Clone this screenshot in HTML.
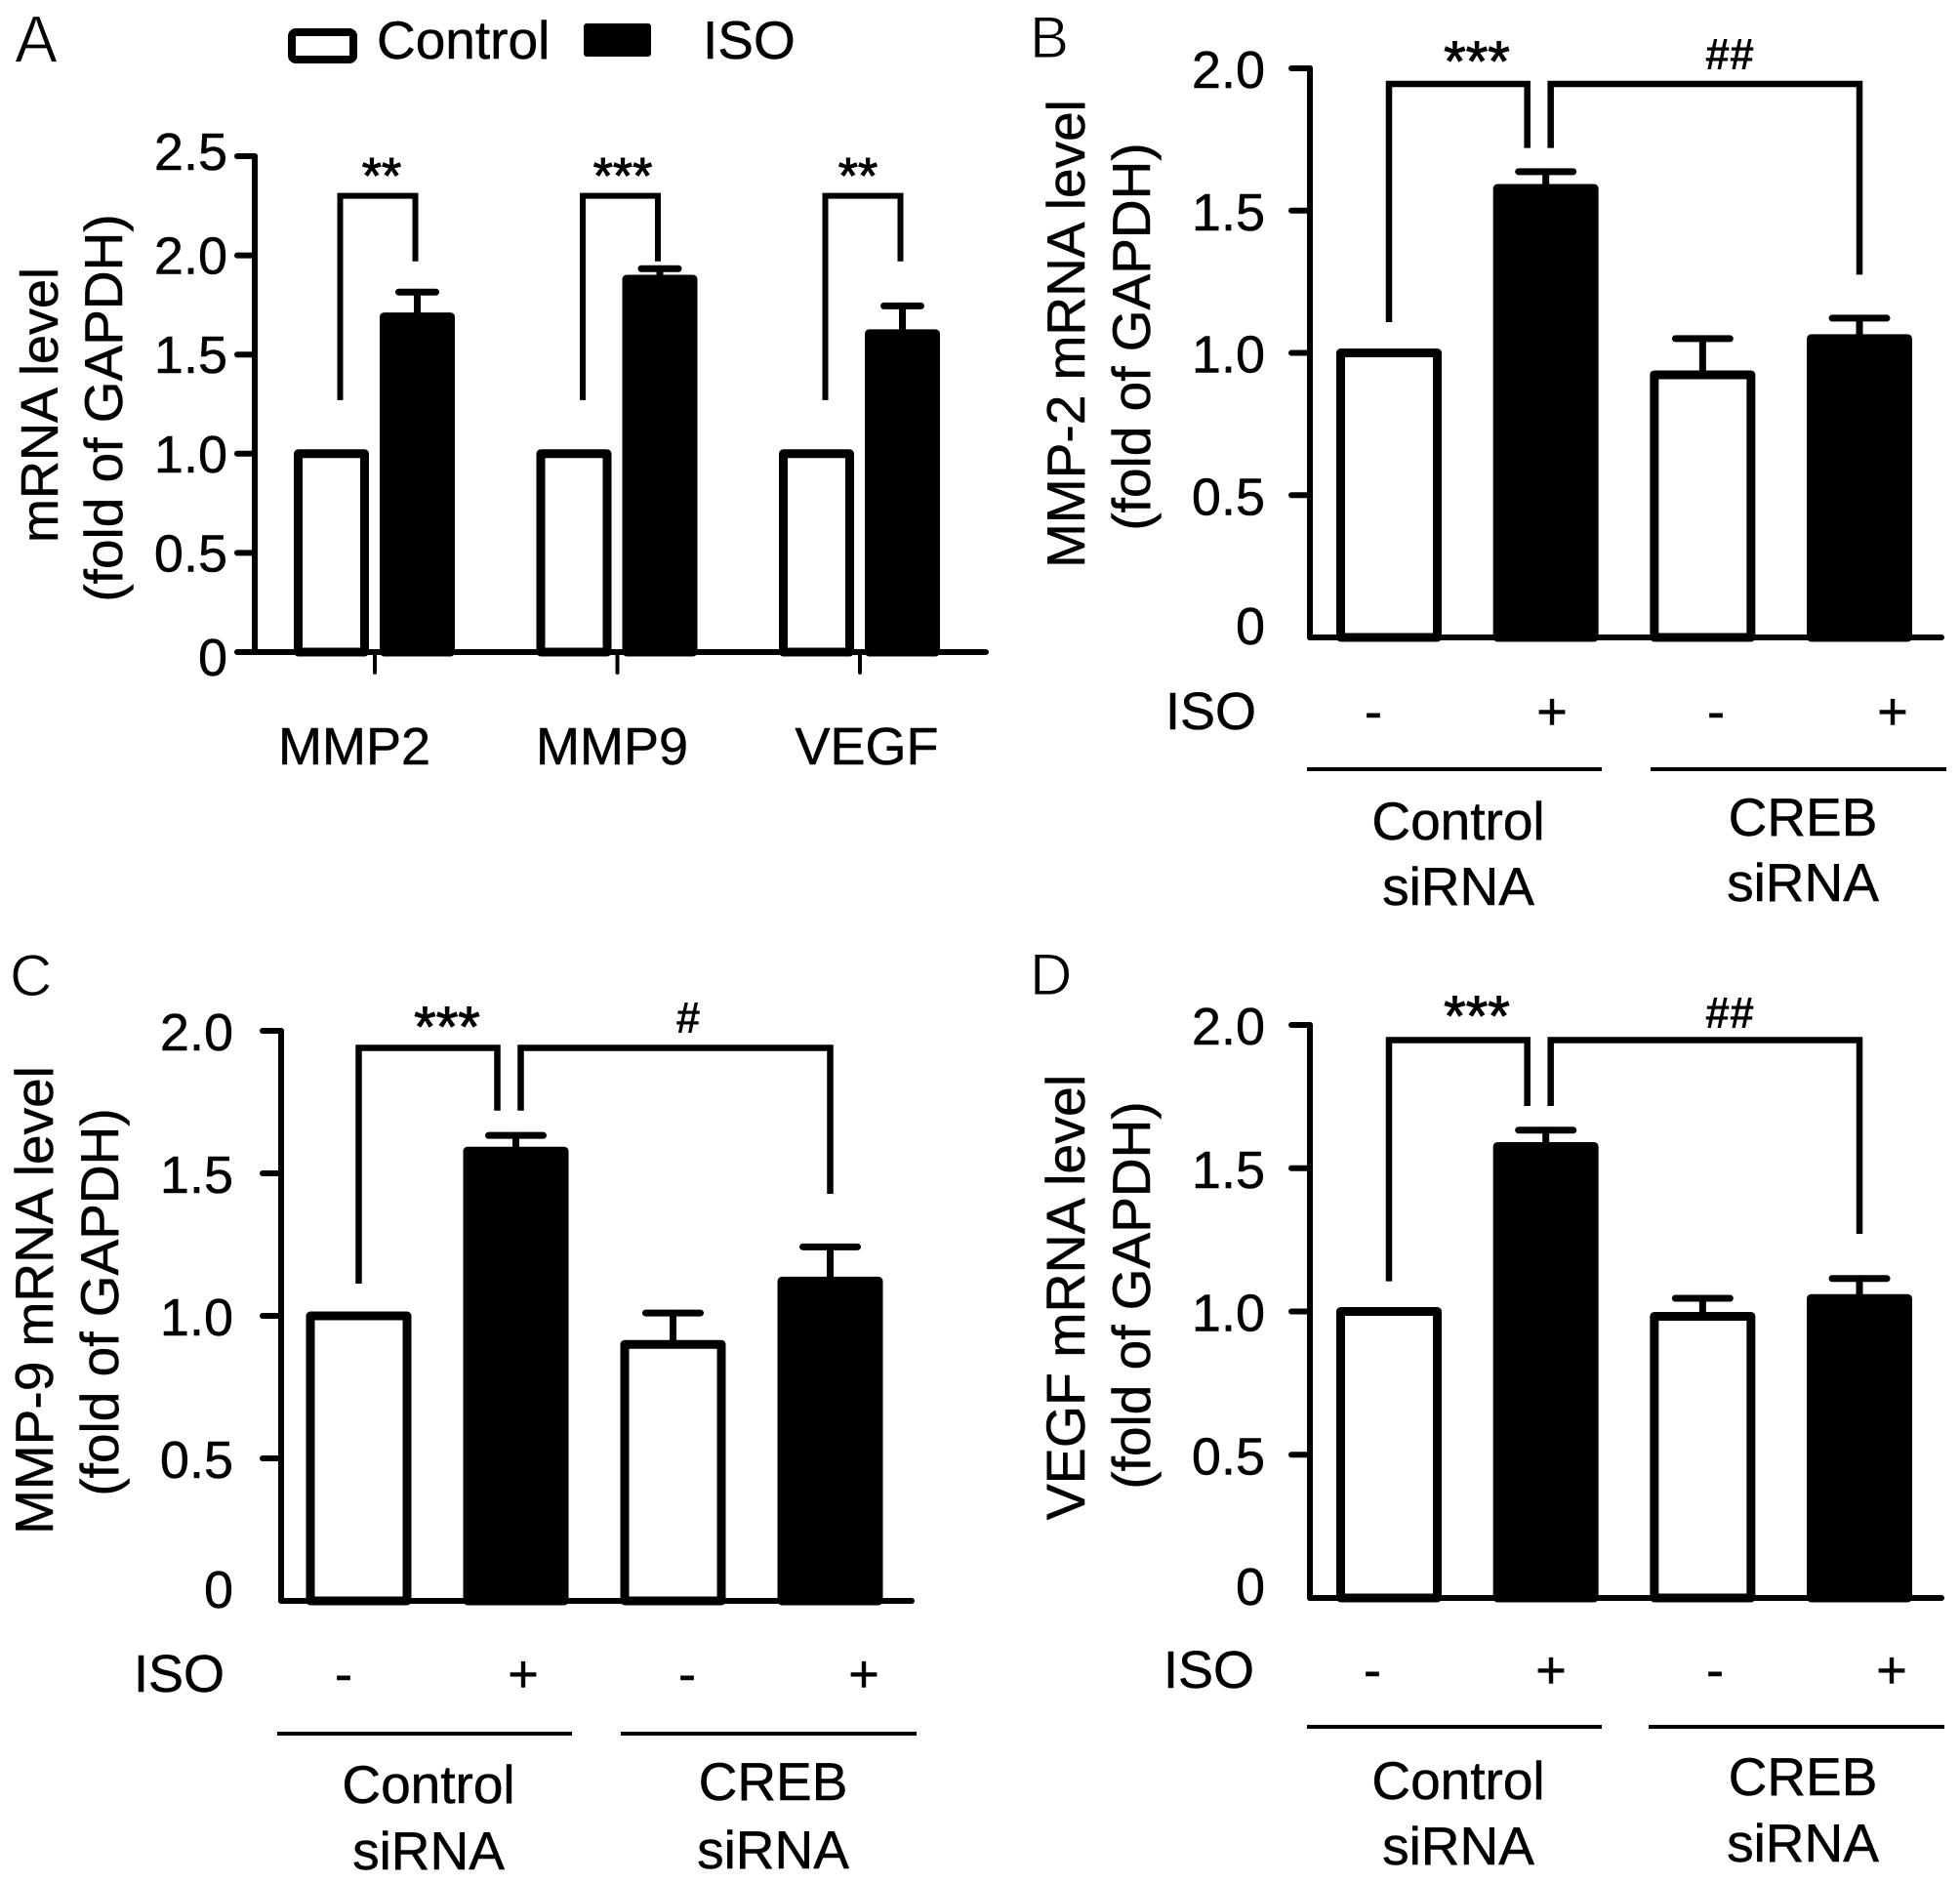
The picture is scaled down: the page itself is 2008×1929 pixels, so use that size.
<!DOCTYPE html>
<html lang="en">
<head>
<meta charset="utf-8">
<title>mRNA level bar charts</title>
<style>
html,body{margin:0;padding:0;background:#fff;}
svg{display:block;}
text{font-family:"Liberation Sans",Arial,sans-serif;fill:#000;stroke:#000;stroke-width:0.5px;}
.f54{font-size:54px;}
.m{text-anchor:middle;}
.letter{font-size:60px;stroke:#fff;stroke-width:1px;}
.sig{font-size:58px;text-anchor:middle;stroke-width:1px;}
.siga{font-size:52px;text-anchor:middle;stroke-width:1px;}
.hash{font-size:45px;text-anchor:middle;font-weight:bold;stroke-width:0;}
</style>
</head>
<body>
<svg id="figure" xmlns="http://www.w3.org/2000/svg" width="2008" height="1929" viewBox="0 0 2008 1929">
<rect width="2008" height="1929" fill="#fff"/>

<g>
<text class="letter" transform="translate(15,64) scale(1.1,1.15)">A</text>
<text class="letter" transform="translate(1055,59)">B</text>
<text class="letter" transform="translate(10,1020)">C</text>
<text class="letter" transform="translate(1055,1019)">D</text>
</g>

<g>
<rect x="299" y="33" width="63" height="28" rx="4" fill="#fff" stroke="#000" stroke-width="8"/>
<text class="f54" style="font-size:55px" transform="translate(386,60)">Control</text>
<rect x="598" y="24" width="69" height="34" rx="3" fill="#000"/>
<text class="f54" style="font-size:55px" transform="translate(720,60)">ISO</text>
</g>

<g>
<text class="f54 m" transform="translate(59,415) rotate(-90)">mRNA level</text>
<text class="f54 m" style="font-size:55px" transform="translate(125,418) rotate(-90)">(fold of GAPDH)</text>
<text class="f54 m" transform="translate(363,783)">MMP2</text>
<text class="f54 m" transform="translate(627,783)">MMP9</text>
<text class="f54 m" transform="translate(888,783)">VEGF</text>
<text class="siga" transform="translate(391,198)">**</text>
<text class="siga" transform="translate(638,198)">***</text>
<text class="siga" transform="translate(879,198)">**</text>
</g>

<g>
<text class="f54 m" style="font-size:55px" transform="translate(1111,342) rotate(-90)">MMP-2 mRNA level</text>
<text class="f54 m" style="font-size:55px" transform="translate(1178,345) rotate(-90)">(fold of GAPDH)</text>
<text class="f54" x="1194" y="747">ISO</text>
<text class="f54 m" x="1407" y="747">-</text>
<text class="f54 m" x="1590" y="747">+</text>
<text class="f54 m" x="1758" y="747">-</text>
<text class="f54 m" x="1939" y="747">+</text>
<rect x="1339" y="786" width="302" height="4"/>
<rect x="1691" y="786" width="303" height="4"/>
<text class="f54 m" style="font-size:55px" x="1494" y="860">Control</text>
<text class="f54 m" style="font-size:55px" x="1494" y="927">siRNA</text>
<text class="f54 m" style="font-size:55px" x="1847" y="856">CREB</text>
<text class="f54 m" style="font-size:55px" x="1847" y="923">siRNA</text>
<text class="sig" x="1513" y="83">***</text>
<text class="hash" x="1772" y="71">##</text>
</g>

<g>
<text class="f54 m" style="font-size:55px" transform="translate(54,1332) rotate(-90)">MMP-9 mRNA level</text>
<text class="f54 m" style="font-size:55px" transform="translate(121,1334) rotate(-90)">(fold of GAPDH)</text>
<text class="f54" x="137" y="1733">ISO</text>
<text class="f54 m" x="352" y="1733">-</text>
<text class="f54 m" x="536" y="1733">+</text>
<text class="f54 m" x="704" y="1733">-</text>
<text class="f54 m" x="885" y="1733">+</text>
<rect x="284" y="1774" width="302" height="4"/>
<rect x="636" y="1774" width="303" height="4"/>
<text class="f54 m" style="font-size:55px" x="439" y="1847">Control</text>
<text class="f54 m" style="font-size:55px" x="439" y="1915">siRNA</text>
<text class="f54 m" style="font-size:55px" x="792" y="1844">CREB</text>
<text class="f54 m" style="font-size:55px" x="792" y="1914">siRNA</text>
<text class="sig" x="458" y="1072">***</text>
<text class="hash" x="705" y="1058">#</text>
</g>

<g>
<text class="f54 m" style="font-size:55.5px" transform="translate(1111,1329) rotate(-90)">VEGF mRNA level</text>
<text class="f54 m" style="font-size:55px" transform="translate(1178,1327) rotate(-90)">(fold of GAPDH)</text>
<text class="f54" x="1192" y="1729">ISO</text>
<text class="f54 m" x="1406" y="1729">-</text>
<text class="f54 m" x="1589" y="1729">+</text>
<text class="f54 m" x="1757" y="1729">-</text>
<text class="f54 m" x="1938" y="1729">+</text>
<rect x="1339" y="1767" width="302" height="4"/>
<rect x="1689" y="1767" width="303" height="4"/>
<text class="f54 m" style="font-size:55px" x="1494" y="1843">Control</text>
<text class="f54 m" style="font-size:55px" x="1494" y="1910">siRNA</text>
<text class="f54 m" style="font-size:55px" x="1847" y="1839">CREB</text>
<text class="f54 m" style="font-size:55px" x="1847" y="1907">siRNA</text>
<text class="sig" x="1513" y="1061">***</text>
<text class="hash" x="1772" y="1053">##</text>
</g>
</svg>

<script>
// Panel A data
const aCategories = ['MMP2', 'MMP9', 'VEGF'];
const aControl = [1.0, 1.0, 1.0];
const aIso = [1.69, 1.88, 1.605];
const aIsoErr = [0.125, 0.053, 0.14];
const aTicks = [0, 0.5, 1.0, 1.5, 2.0, 2.5];
const aTickLabels = ['0', '0.5', '1.0', '1.5', '2.0', '2.5'];
const aBracketTop = [2.3, 2.3, 2.3];
const aBracketLeftFoot = [1.27, 1.27, 1.27];
const aBracketRightFoot = [1.97, 1.97, 1.97];

// Panels B, C, D data (Control siRNA -, +; CREB siRNA -, +)
const siTicks = [0, 0.5, 1.0, 1.5, 2.0];
const siTickLabels = ['0', '0.5', '1.0', '1.5', '2.0'];
const siBarKinds = ['control', 'iso', 'control', 'iso'];

const bMeans = [1.0, 1.578, 0.923, 1.05];
const bErrs = [0, 0.059, 0.127, 0.072];
const bBracketLevels = [1.945, 1.108, 1.72, 1.275];

const cMeans = [1.0, 1.578, 0.9, 1.122];
const cErrs = [0, 0.055, 0.11, 0.12];
const cBracketLevels = [1.94, 1.113, 1.72, 1.428];

const dMeans = [1.0, 1.576, 0.983, 1.045];
const dErrs = [0, 0.057, 0.063, 0.07];
const dBracketLevels = [1.947, 1.105, 1.717, 1.271];

const svgNS = 'http://www.w3.org/2000/svg';
const figure = document.getElementById('figure');

function make(parent, tag, attrs) {
  const el = document.createElementNS(svgNS, tag);
  for (const k in attrs) el.setAttribute(k, attrs[k]);
  parent.appendChild(el);
  return el;
}
function line(parent, name, x1, y1, x2, y2, w) {
  const el = make(parent, 'line', {x1, y1, x2, y2, stroke: '#000', 'stroke-width': w, 'stroke-linecap': 'round'});
  
  
  return el;
}
function drawYAxis(g, prefix, yScale, axisX, tickLeft, labelX, ticks, labels, labelDy, zeroDy, topDy) {
  const axis = line(g, prefix + '-y-axis', axisX, yScale(ticks[ticks.length - 1]), axisX, yScale(0), 6);
  ticks.forEach(function (t, i) {
    if (i > 0) line(g, prefix + '-y-tick-' + labels[i], tickLeft, yScale(t), axisX, yScale(t), 6);
    const dy = i === 0 ? zeroDy : (i === ticks.length - 1 ? topDy : labelDy);
    const label = make(g, 'text', {'text-anchor': 'end', 'font-size': 54, x: labelX, y: yScale(t) + dy});
    label.textContent = labels[i];
    
    
  });
  return axis;
}
function drawBar(g, name, left, width, value, yScale, kind, strokeW) {
  const h = strokeW / 2;
  const top = yScale(value), base = yScale(0);
  const bar = make(g, 'rect', {x: left + h, y: top, width: width - strokeW, height: base - top,
    fill: kind === 'iso' ? '#000' : '#fff', stroke: '#000', 'stroke-width': strokeW, 'stroke-linejoin': 'round'});
  
  
}
function drawError(g, name, cx, value, err, yScale, capW) {
  if (!err) return;
  line(g, name + '-stem', cx, yScale(value), cx, yScale(value + err), 7);
  line(g, name + '-cap', cx - capW / 2, yScale(value + err), cx + capW / 2, yScale(value + err), 7);
}
function drawBracket(g, name, xL, xR, yTop, yLeftFoot, yRightFoot, w) {
  const p = make(g, 'path', {d: 'M' + xL + ' ' + yLeftFoot + 'L' + xL + ' ' + yTop + 'L' + xR + ' ' + yTop + 'L' + xR + ' ' + yRightFoot,
    fill: 'none', stroke: '#000', 'stroke-width': w, 'stroke-linejoin': 'miter'});
  
  
}

function drawPanelA() {
  const g = make(figure, 'g', {});
  
  
  const y0 = 668, unit = 203.2;
  const yScale = function (v) { return y0 - v * unit; };
  const groupX = function (i) { return 301 + i * 248.5; };
  const barW = 77, isoOffset = 88;
  aCategories.forEach(function (cat, i) {
    const key = cat.toLowerCase();
    const left = groupX(i), isoLeft = left + isoOffset;
    const cC = left + barW / 2, cI = isoLeft + barW / 2;
    drawError(g, 'panel-a-error-' + key, cI, aIso[i], aIsoErr[i], yScale, 38);
    drawBar(g, 'panel-a-bar-control-' + key, left, barW, aControl[i], yScale, 'control', 9);
    drawBar(g, 'panel-a-bar-iso-' + key, isoLeft, barW, aIso[i], yScale, 'iso', 9);
    drawBracket(g, 'panel-a-bracket-' + key, cC + 9, cI - 2, yScale(aBracketTop[i]), yScale(aBracketLeftFoot[i]), yScale(aBracketRightFoot[i]), 6);
    line(g, 'panel-a-x-tick-' + key, left + 83, y0, left + 83, y0 + 21, 4);
  });
  drawYAxis(g, 'panel-a', yScale, 261, 243, 233, aTicks, aTickLabels, 19, 24, 14);
  line(g, 'panel-a-x-axis', 243, y0, 1010, y0, 6);
}

function drawSirnaPanel(prefix, means, errs, levels, cfg) {
  const g = make(figure, 'g', {});
  
  
  const yScale = function (v) { return cfg.y0 - v * cfg.unit; };
  const barX = function (i) { return cfg.firstBar + i * cfg.step; };
  const center = function (i) { return barX(i) + cfg.barW / 2; };
  means.forEach(function (m, i) {
    drawError(g, prefix + '-error-' + (i + 1), center(i), m, errs[i], yScale, 56);
    drawBar(g, prefix + '-bar-' + (i + 1), barX(i), cfg.barW, m, yScale, siBarKinds[i], 9);
  });
  drawBracket(g, prefix + '-bracket-left', center(0), center(1) - 19, yScale(levels[0]), yScale(levels[1]), yScale(levels[2]), 6.5);
  drawBracket(g, prefix + '-bracket-right', center(1) + 5, center(3), yScale(levels[0]), yScale(levels[2]), yScale(levels[3]), 6.5);
  drawYAxis(g, prefix, yScale, cfg.axisX, cfg.axisX - 19, cfg.labelX, siTicks, siTickLabels, 20, 7, 20);
  line(g, prefix + '-x-axis', cfg.axisX, cfg.y0, cfg.xEnd, cfg.y0, 6);
}

drawPanelA();
drawSirnaPanel('panel-b', bMeans, bErrs, bBracketLevels, {y0: 653, unit: 291.5, firstBar: 1369, step: 160.67, barW: 108, axisX: 1342, labelX: 1296, xEnd: 1989});
drawSirnaPanel('panel-c', cMeans, cErrs, cBracketLevels, {y0: 1640, unit: 292, firstBar: 313.5, step: 161, barW: 108, axisX: 288, labelX: 239, xEnd: 934});
drawSirnaPanel('panel-d', dMeans, dErrs, dBracketLevels, {y0: 1637, unit: 293.5, firstBar: 1369, step: 160.67, barW: 108, axisX: 1342, labelX: 1296, xEnd: 1989});
</script>
</body>
</html>
